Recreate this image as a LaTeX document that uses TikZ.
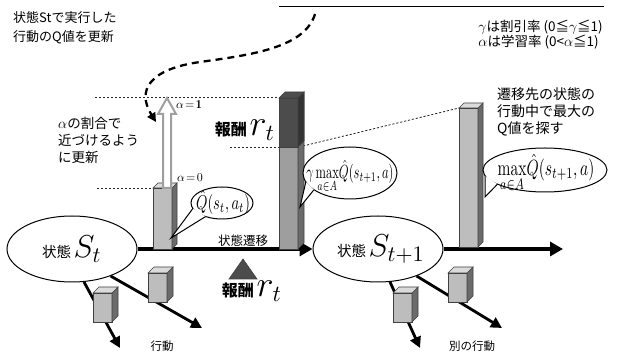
\documentclass[tikz,border=0pt]{standalone}
\usepackage{fontspec}
\usepackage{amsmath}
\usepackage{graphicx}
\usetikzlibrary{arrows.meta,shapes.geometric,calc}
\newfontfamily\jp{Noto Sans CJK JP}
\definecolor{barlight}{gray}{0.74}
\definecolor{barmid}{gray}{0.62}
\definecolor{barside}{gray}{0.42}
\definecolor{bartop}{gray}{0.86}
\definecolor{bardark}{gray}{0.30}
\definecolor{bardarkside}{gray}{0.20}
\definecolor{edge}{gray}{0.25}

% 3D prism: x, y top, y bottom, width, depth, front, side, top colours
\newcommand{\prism}[8]{%
  \filldraw[fill=#6,draw=edge,line width=0.6pt] (#1,#2) rectangle ({#1+#4},#3);
  \filldraw[fill=#7,draw=edge,line width=0.6pt] ({#1+#4},#2) -- ++(#5,-#5) -- ({#1+#4+#5},{#3-#5}) -- ({#1+#4},#3) -- cycle;
  \filldraw[fill=#8,draw=edge,line width=0.6pt] (#1,#2) -- ++(#5,-#5) -- ++(#4,0) -- ({#1+#4},#2) -- cycle;
}
% speech bubble: cx, cy, rx, ry, tip x, tip y, two base angles
\newcommand{\speech}[8]{%
  \draw[line width=1pt,fill=white] (#1,#2) ellipse [x radius=#3, y radius=#4];
  \fill[white] ($(#1,#2)+(#7:#3 and #4)$) -- (#5,#6) -- ($(#1,#2)+(#8:#3 and #4)$) -- cycle;
  \draw[line width=1pt,line join=miter] ($(#1,#2)+(#7:#3 and #4)$) -- (#5,#6) -- ($(#1,#2)+(#8:#3 and #4)$);
}

\begin{document}
\begin{tikzpicture}[x=1pt,y=-1pt,
  guide/.style={line width=0.8pt, dash pattern=on 2.2pt off 1.8pt, black!85},
  flow/.style={line width=3.5pt, -{Triangle[length=13pt,width=14pt]}},
  act/.style={line width=2.8pt, -{Triangle[length=11pt,width=11pt]}},
  state/.style={ellipse, draw, line width=1pt, fill=white, minimum width=130pt, minimum height=66pt, inner sep=0pt},
  jlabel/.style={font=\jp\fontsize{13}{17}\selectfont, align=left, inner sep=0pt},
  reward/.style={inner sep=0pt, font=\jp\bfseries\fontsize{16}{16}\selectfont},
]
\useasboundingbox (0,0) rectangle (624,352);

% rule at the top
\coordinate (ruleL) at (279,7);
\coordinate (ruleR) at (604,7);
\draw[line width=1pt] (ruleL) -- (ruleR);

% dotted level guides
\coordinate (g1a) at (95,97);   \coordinate (g1b) at (279,97);
\coordinate (g0a) at (97,188);  \coordinate (g0b) at (153,188);
\coordinate (grA) at (230,147); \coordinate (grB) at (279,147);
\coordinate (gsA) at (303,146); \coordinate (gsB) at (459,108);
\draw[guide] (g1a) -- (g1b);
\draw[guide] (g0a) -- (g0b);
\draw[guide] (grA) -- (grB);
\draw[guide] (gsA) -- (gsB);

% states
\node[state] (st)  at (72,249)  {};
\node[state] (st1) at (378,249) {};

% state transition axis
\coordinate (axEnd) at (563,249);
\draw[flow] (st.east) -- (st1.west);
\draw[flow] (st1.east) -- (axEnd);

% bar for Q(s_t,a_t)
\prism{153}{188}{249}{19}{5}{barlight}{barside}{bartop}
% bar for the target value
\prism{279}{98}{249}{19}{6}{barmid}{barside}{bardark}
\filldraw[fill=bardark,draw=edge,line width=0.6pt] (279,98) rectangle (298,147);
\filldraw[fill=bardarkside,draw=edge,line width=0.6pt] (298,98) -- ++(6,-6) -- (304,141) -- (298,147) -- cycle;
% bar for the best next action
\prism{459}{108}{247}{19}{5}{barlight}{barside}{bartop}

% hollow update arrow
\filldraw[fill=white,draw=gray!75,line width=2pt,line join=miter]
  (163,188) -- (163,114) -- (158,114) -- (167,98) -- (176,114) -- (171,114) -- (171,188) -- cycle;

% dashed feedback curve
\coordinate (fbStart) at (315,14);
\coordinate (fbEnd) at (156,122);
\draw[line width=2.3pt, dash pattern=on 7pt off 5pt, -{Triangle[length=9pt,width=9pt]}]
  (fbStart) .. controls (305,48) and (250,55) .. (200,62)
  .. controls (150,69) and (136,90) .. (fbEnd);

% speech bubbles
\speech{222}{203}{31}{16}{171}{238}{160}{122}
\speech{350}{173}{47}{26}{300}{207}{160}{140}
\speech{545}{170}{62}{22}{485}{197}{165}{140}
\node[inner sep=0pt] (qa) at (223,203) {\scalebox{1.45}[2.0]{$\hat{Q}(s_t,a_t)$}};
\node[inner sep=0pt] (qg) at (350,177) {\scalebox{1.25}[1.9]{$\gamma\max\limits_{a\in A}\!\hat{Q}(s_{t+1},a)$}};
\node[inner sep=0pt] (qm) at (546,174) {\scalebox{1.55}[2.2]{$\max\limits_{a\in A}\!\hat{Q}(s_{t+1},a)$}};

% reward marker
\coordinate (triTop) at (243,259);
\filldraw[fill=bardark,draw=edge,line width=0.6pt] (triTop) -- (257,279) -- (229,279) -- cycle;

% action branches
\coordinate (a1) at (120,348);
\coordinate (a2) at (202,328);
\coordinate (b1) at (420,348);
\coordinate (b2) at (502,328);
\draw[act] (st.-70) -- (a1);
\draw[act] (st.-35) -- (a2);
\draw[act] (st1.-70) -- (b1);
\draw[act] (st1.-35) -- (b2);
\prism{93}{293}{322}{19}{6}{barlight}{barside}{bartop}
\prism{148}{273}{302}{19}{6}{barlight}{barside}{bartop}
\prism{393}{293}{322}{19}{6}{barlight}{barside}{bartop}
\prism{448}{273}{302}{19}{6}{barlight}{barside}{bartop}

% state labels
\node[inner sep=0pt] (stl) at (st.center) {\jp\fontsize{14.5}{14.5}\selectfont 状態\,\scalebox{2.2}{$S_t$}};
\node[inner sep=0pt] (st1l) at ([xshift=3pt]st1.center) {\jp\fontsize{14.5}{14.5}\selectfont 状態\,\scalebox{2.2}{$S_{t+1}$}};

% text labels
\node[jlabel, anchor=north west, font=\jp\fontsize{13}{19}\selectfont] (upd) at (13,11) {状態Stで実行した\\行動のQ値を更新};
\node[jlabel, anchor=north east, font=\jp\fontsize{13.5}{14.5}\selectfont] (par) at (603,20) {$\gamma$は割引率 (0≦$\gamma$≦1)\\$\alpha$は学習率 (0<$\alpha$≦1)};
\node[jlabel, anchor=north west, font=\jp\fontsize{13.5}{17}\selectfont] (rat) at (58,117) {$\alpha$の割合で\\近づけるよう\\に更新};
\node[jlabel, anchor=north west, font=\jp\fontsize{14}{17}\selectfont] (srch) at (497,87) {遷移先の状態の\\行動中で最大の\\Q値を探す};
\node[jlabel, font=\jp\fontsize{12.5}{13}\selectfont] (trn) at (243,241) {状態遷移};
\node[jlabel, font=\jp\fontsize{11.5}{12}\selectfont] (act1) at (162,346) {行動};
\node[jlabel, font=\jp\fontsize{11.5}{12}\selectfont] (act2) at (472,346) {別の行動};
\node[inner sep=0pt] (al1) at (189,105) {\scalebox{1.2}{$\alpha\!=\!\mathbf{1}$}};
\node[inner sep=0pt] (al0) at (190,178) {\scalebox{1.2}{$\alpha\!=\!0$}};
\node[reward] (rw1) at (245,130) {報酬\,\scalebox{2.1}{$r_t$}};
\node[reward] (rw2) at (252,291) {報酬\,\scalebox{2.1}{$r_t$}};
\end{tikzpicture}
\end{document}
